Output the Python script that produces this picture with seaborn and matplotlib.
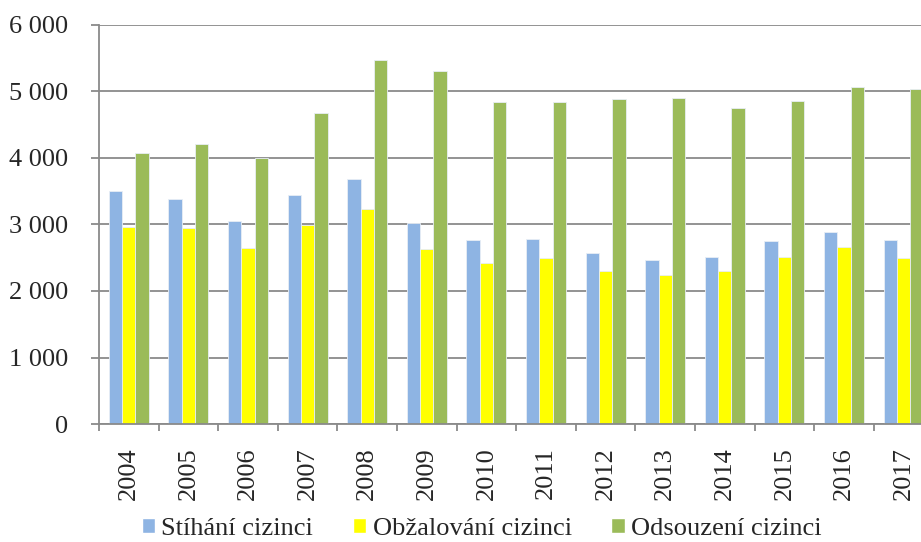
import pandas as pd
import seaborn as sns
import matplotlib.pyplot as plt
from matplotlib.patches import Patch
from matplotlib.ticker import FuncFormatter

years = [str(y) for y in range(2004, 2018)]
stihani = [3510, 3380, 3055, 3445, 3685, 3030, 2760, 2775, 2570, 2460, 2505, 2750, 2885, 2760]
obzalovani = [2955, 2945, 2645, 2995, 3230, 2625, 2425, 2490, 2305, 2235, 2300, 2505, 2655, 2495]
odsouzeni = [4080, 4205, 3995, 4670, 5475, 5310, 4835, 4835, 4890, 4900, 4755, 4860, 5075, 5040]
series = ["Stíhání cizinci", "Obžalování cizinci", "Odsouzení cizinci"]
colors = ["#8EB4E3", "#FFFF00", "#9BBB59"]

# long format for seaborn
df = pd.DataFrame({"Rok": years * 3,
                   "Řada": [s for s in series for _ in years],
                   "Počet": stihani + obzalovani + odsouzeni})

sns.set_style("white")
plt.rcParams["font.family"] = ["Liberation Serif", "DejaVu Serif"]
plt.rcParams["font.size"] = 19

fig = plt.figure(figsize=(9.21, 5.42), dpi=100)
ax = fig.add_axes([0.1075, 0.2177, 0.906, 0.7362])

sns.barplot(data=df, x="Rok", y="Počet", hue="Řada", palette=colors,
            width=0.67, saturation=1, edgecolor="#e8eef5", linewidth=0.6,
            ax=ax, legend=False)

grey = "#8a8a8a"
ax.set_ylim(0, 6000)
ax.set_xlim(-0.5, len(years) - 0.5)
ax.set_yticks(range(0, 6001, 1000))
ax.yaxis.set_major_formatter(FuncFormatter(lambda v, p: f"{int(v):,}".replace(",", " ")))
ax.yaxis.grid(True, color=grey, lw=1.3)
ax.set_axisbelow(True)
for side in ["top", "right"]:
    ax.spines[side].set_visible(False)
for side in ["left", "bottom"]:
    ax.spines[side].set_color(grey)
    ax.spines[side].set_linewidth(1.3)

ax.tick_params(axis="y", length=6, width=1.3, color=grey, pad=16, left=True)
# category boundary ticks, labels centred between them
ax.set_xticks([i - 0.5 for i in range(len(years) + 1)], minor=True)
ax.tick_params(axis="x", which="minor", length=5, width=1.3, color=grey, bottom=True)
ax.tick_params(axis="x", which="major", length=0, pad=17)
plt.setp(ax.get_xticklabels(), rotation=90, va="top")
ax.set_xlabel("")
ax.set_ylabel("")

handles = [Patch(facecolor=c, label=s) for c, s in zip(colors, series)]
fig.legend(handles=handles, loc="center", bbox_to_anchor=(0.523, 0.024), ncol=3,
           frameon=False, handlelength=0.5, handleheight=0.5, handletextpad=0.25,
           columnspacing=1.5, borderaxespad=0)

fig.savefig("out.png", dpi=100)
